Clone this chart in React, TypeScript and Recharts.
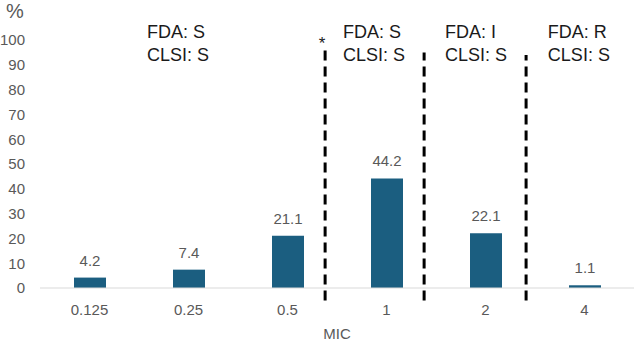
import React from "react";
import {
  BarChart,
  Bar,
  XAxis,
  YAxis,
  LabelList,
  ReferenceLine,
  ReferenceDot,
} from "recharts";

// MIC categories and share of isolates (%)
const micLabels = ["0.125", "0.25", "0.5", "1", "2", "4"];
const isolatePct = [4.2, 7.4, 21.1, 44.2, 22.1, 1.1];
const yTicks = [0, 10, 20, 30, 40, 50, 60, 70, 80, 90, 100];

// Interpretation zones
const fdaCalls = ["S", "S", "I", "R"];
const clsiCalls = ["S", "S", "S", "S"];

// Layout on a hidden numeric axis (0..6, one unit per MIC column)
const noteX = [1.08, 3.06, 4.09, 5.13];
const noteY = 100;
const breakX = [2.88, 3.88, 4.91];
const breakTop = [96, 95, 94];
const breakBottom = -5;

const data = micLabels.map((mic, i) => ({ mic, pct: isolatePct[i], col: i + 0.5 }));

const FONT = "'Liberation Sans', Arial, sans-serif";
const BAR_COLOR = "#1b5e80";
const AXIS_TEXT = "#595959";

const NoteLabel = (props: any) => {
  const { viewBox, fda, clsi } = props;
  const x = viewBox.x;
  const y = viewBox.y;
  return (
    <text x={x} y={y} fontFamily={FONT} fontSize={18} fill="#1a1a1a">
      <tspan x={x} dy={-2}>{`FDA: ${fda}`}</tspan>
      <tspan x={x} dy={23}>{`CLSI: ${clsi}`}</tspan>
    </text>
  );
};

const StarLabel = (props: any) => {
  const { viewBox } = props;
  return (
    <text
      x={viewBox.x}
      y={viewBox.y + 2}
      fontFamily={FONT}
      fontSize={17}
      fill="#1a1a1a"
      textAnchor="middle"
    >
      *
    </text>
  );
};

export default function App() {
  return (
    <div style={{ position: "absolute", left: 0, top: 0, width: 634, height: 342, background: "#fff" }}>
      <div
        style={{
          position: "absolute",
          left: 6,
          top: 0,
          lineHeight: "22px",
          fontFamily: FONT,
          fontSize: 20,
          color: AXIS_TEXT,
        }}
      >
        %
      </div>
      <BarChart
        width={634}
        height={342}
        data={data}
        margin={{ top: 40, right: 0, bottom: 0, left: 0 }}
      >
        <XAxis
          xAxisId="cat"
          dataKey="mic"
          height={54}
          tickLine={false}
          tickSize={0}
          tickMargin={16}
          stroke="#d9d9d9"
          tick={{ fill: AXIS_TEXT, fontSize: 15, fontFamily: FONT }}
          label={{
            value: "MIC",
            position: "insideBottom",
            offset: 3,
            fill: AXIS_TEXT,
            fontSize: 15,
            fontFamily: FONT,
          }}
        />
        <XAxis
          xAxisId="num"
          dataKey="col"
          type="number"
          domain={[0, 6]}
          ticks={[0, 1, 2, 3, 4, 5, 6]}
          allowDataOverflow
          hide
        />
        <YAxis
          width={40}
          domain={[0, 100]}
          ticks={yTicks}
          axisLine={false}
          tickLine={false}
          tickSize={0}
          tickMargin={15}
          interval={0}
          tick={{ fill: AXIS_TEXT, fontSize: 15, fontFamily: FONT }}
        />
        <Bar
          xAxisId="cat"
          dataKey="pct"
          fill={BAR_COLOR}
          barSize={32}
          isAnimationActive={false}
        >
          <LabelList
            dataKey="pct"
            position="top"
            offset={12}
            fill={AXIS_TEXT}
            fontSize={15}
            fontFamily={FONT}
          />
        </Bar>
        {breakX.map((x, i) => (
          <ReferenceLine
            key={`brk-${i}`}
            xAxisId="num"
            segment={[
              { x, y: breakBottom },
              { x, y: breakTop[i] },
            ]}
            stroke="#000"
            strokeWidth={3}
            strokeDasharray="10 6"
            ifOverflow="visible"
          />
        ))}
        {noteX.map((x, i) => (
          <ReferenceDot
            key={`note-${i}`}
            xAxisId="num"
            x={x}
            y={noteY}
            r={0}
            stroke="none"
            ifOverflow="visible"
            label={<NoteLabel fda={fdaCalls[i]} clsi={clsiCalls[i]} />}
          />
        ))}
        <ReferenceDot
          xAxisId="num"
          x={2.85}
          y={97}
          r={0}
          stroke="none"
          ifOverflow="visible"
          label={<StarLabel />}
        />
      </BarChart>
    </div>
  );
}
